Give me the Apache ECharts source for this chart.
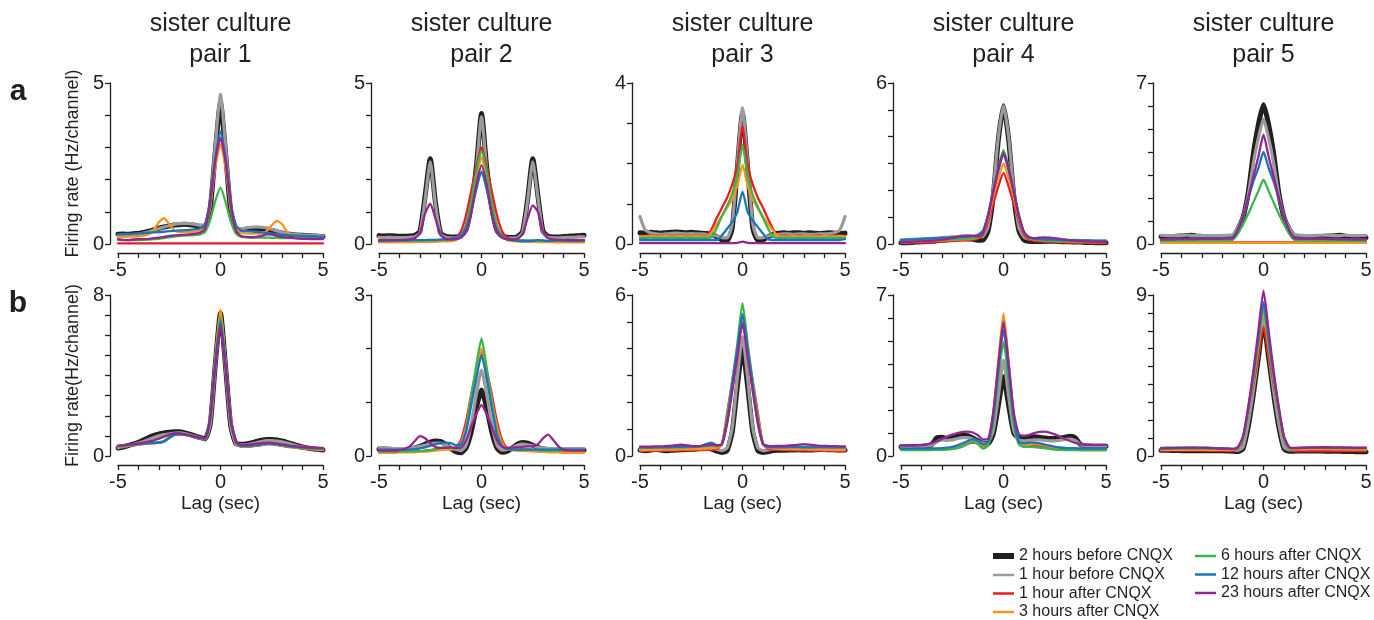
<!DOCTYPE html>
<html><head><meta charset="utf-8">
<script src="https://cdn.jsdelivr.net/npm/echarts@6/dist/echarts.min.js"></script>
<style>html,body{margin:0;padding:0;background:#fff}#c{width:1374px;height:620px}</style>
</head><body><div id="c"></div>
<script>
// ---------- DATA ----------
const lags = [-5,-4.75,-4.5,-4.25,-4,-3.75,-3.5,-3.25,-3,-2.75,-2.5,-2.25,-2,-1.75,-1.5,-1.25,-1,-0.75,-0.5,-0.25,0,0.25,0.5,0.75,1,1.25,1.5,1.75,2,2.25,2.5,2.75,3,3.25,3.5,3.75,4,4.25,4.5,4.75,5];
const xTickLabels = [-5, 0, 5];
const conditions = ['2 hours before CNQX','1 hour before CNQX','1 hour after CNQX','3 hours after CNQX','6 hours after CNQX','12 hours after CNQX','23 hours after CNQX'];
const titleLine1 = 'sister culture';
const pairLabels = ['pair 1','pair 2','pair 3','pair 4','pair 5'];
const yMaxRowA = [5, 5, 4, 6, 7];
const yMaxRowB = [8, 3, 6, 7, 9];
const yNameRowA = 'Firing rate (Hz/channel)';
const yNameRowB = 'Firing rate(Hz/channel)';
const xName = 'Lag (sec)';

// row a, pair 1
const a1_h2b = [0.30,0.31,0.30,0.32,0.33,0.36,0.40,0.44,0.49,0.53, 0.56,0.59,0.60,0.61,0.60,0.58,0.55,0.55,1.10,2.90, 4.40, 2.80,1.00,0.48,0.42,0.46,0.48,0.48,0.47,0.45,0.42, 0.38,0.34,0.31,0.29,0.28,0.27,0.26,0.25,0.24,0.23];
const a1_h1b = [0.27,0.28,0.28,0.29,0.31,0.34,0.38,0.43,0.48,0.53, 0.57,0.61,0.63,0.64,0.63,0.61,0.58,0.60,1.25,3.10, 4.65, 3.00,1.15,0.52,0.47,0.50,0.52,0.53,0.52,0.50,0.46, 0.41,0.36,0.32,0.30,0.29,0.28,0.27,0.27,0.26,0.25];
const a1_h1a = [0.02,0.02,0.02,0.02,0.02,0.02,0.02,0.02,0.02,0.02, 0.02,0.02,0.02,0.02,0.02,0.02,0.02,0.02,0.02,0.02, 0.02, 0.02,0.02,0.02,0.02,0.02,0.02,0.02,0.02,0.02,0.02, 0.02,0.02,0.02,0.02,0.02,0.02,0.02,0.02,0.02,0.02];
const a1_h3a = [0.22,0.22,0.23,0.23,0.24,0.26,0.30,0.45,0.68,0.80, 0.62,0.42,0.38,0.38,0.38,0.39,0.41,0.50,1.20,2.40, 3.10, 2.35,1.10,0.48,0.35,0.33,0.32,0.32,0.33,0.40,0.58, 0.72,0.62,0.38,0.28,0.26,0.25,0.24,0.23,0.22,0.21];
const a1_h6a = [0.13,0.12,0.12,0.12,0.12,0.13,0.14,0.15,0.16,0.18, 0.21,0.23,0.25,0.26,0.27,0.28,0.30,0.38,0.75,1.35, 1.75, 1.30,0.70,0.33,0.22,0.21,0.20,0.20,0.20,0.20,0.19, 0.19,0.18,0.18,0.19,0.19,0.20,0.20,0.20,0.20,0.20];
const a1_h12a = [0.30,0.31,0.31,0.32,0.33,0.34,0.35,0.36,0.37,0.38, 0.40,0.41,0.42,0.43,0.44,0.46,0.48,0.62,1.40,2.70, 3.50, 2.65,1.30,0.58,0.42,0.40,0.39,0.38,0.36,0.34,0.32, 0.31,0.29,0.28,0.27,0.26,0.25,0.24,0.24,0.23,0.22];
const a1_h23a = [0.15,0.13,0.12,0.14,0.15,0.15,0.16,0.18,0.20,0.22, 0.25,0.27,0.28,0.29,0.30,0.32,0.35,0.48,1.30,2.60, 3.30, 2.55,1.20,0.42,0.25,0.22,0.21,0.22,0.25,0.30,0.29, 0.25,0.22,0.20,0.18,0.17,0.16,0.16,0.15,0.15,0.15];

// row a, pair 2
const a2_h2b = [0.26,0.25,0.26,0.25,0.24,0.24,0.25,0.27,0.40,1.50, 2.65,1.30,0.35,0.24,0.22,0.22,0.26,0.45,1.20,2.40, 4.05, 2.40,1.15,0.42,0.25,0.21,0.20,0.23,0.38,1.40,2.65, 1.50,0.40,0.24,0.22,0.22,0.23,0.24,0.25,0.26,0.27];
const a2_h1b = [0.21,0.20,0.21,0.20,0.20,0.20,0.21,0.23,0.36,1.40, 2.55,1.25,0.32,0.21,0.19,0.19,0.23,0.42,1.15,2.35, 3.95, 2.35,1.10,0.40,0.22,0.18,0.18,0.20,0.35,1.35,2.55, 1.45,0.36,0.21,0.19,0.19,0.20,0.21,0.21,0.22,0.22];
const a2_h1a = [0.08,0.08,0.07,0.08,0.08,0.07,0.08,0.08,0.09,0.09, 0.10,0.10,0.11,0.12,0.14,0.20,0.40,0.90,1.65,2.40, 3.00, 2.40,1.65,0.90,0.40,0.20,0.14,0.12,0.11,0.10,0.10, 0.09,0.09,0.08,0.08,0.08,0.08,0.07,0.08,0.08,0.08];
const a2_h3a = [0.05,0.05,0.05,0.05,0.06,0.06,0.06,0.06,0.07,0.07, 0.07,0.07,0.08,0.08,0.09,0.12,0.25,0.60,1.30,2.10, 2.70, 2.10,1.30,0.60,0.25,0.12,0.09,0.08,0.07,0.07,0.07, 0.06,0.06,0.06,0.06,0.05,0.05,0.05,0.05,0.05,0.05];
const a2_h6a = [0.09,0.09,0.10,0.10,0.10,0.10,0.10,0.11,0.11,0.11, 0.11,0.12,0.12,0.13,0.14,0.16,0.28,0.60,1.35,2.25, 2.90, 2.25,1.30,0.55,0.25,0.15,0.13,0.12,0.12,0.11,0.11, 0.11,0.10,0.10,0.10,0.10,0.10,0.09,0.09,0.09,0.09];
const a2_h12a = [0.10,0.10,0.10,0.11,0.11,0.11,0.12,0.12,0.12,0.12, 0.13,0.13,0.14,0.15,0.17,0.20,0.28,0.50,1.00,1.70, 2.25, 1.70,0.95,0.45,0.22,0.14,0.12,0.10,0.09,0.09,0.10, 0.12,0.11,0.10,0.10,0.11,0.11,0.10,0.10,0.10,0.11];
const a2_h23a = [0.12,0.12,0.12,0.12,0.12,0.13,0.14,0.18,0.35,0.95, 1.25,0.80,0.30,0.16,0.14,0.15,0.20,0.40,1.00,1.85, 2.45, 1.85,0.95,0.38,0.20,0.15,0.14,0.16,0.30,0.80,1.20, 1.00,0.40,0.18,0.14,0.13,0.12,0.12,0.12,0.12,0.12];

// row a, pair 3
const a3_h2b = [0.28,0.27,0.29,0.28,0.27,0.28,0.29,0.30,0.29,0.28, 0.29,0.28,0.27,0.26,0.24,0.18,0.10,0.08,0.40,1.90, 3.25, 1.90,0.40,0.09,0.10,0.18,0.24,0.27,0.28,0.27,0.28, 0.28,0.27,0.28,0.27,0.26,0.27,0.28,0.27,0.26,0.27];
const a3_h1b = [0.68,0.35,0.28,0.25,0.24,0.25,0.26,0.27,0.26,0.25, 0.26,0.25,0.25,0.24,0.22,0.20,0.16,0.15,0.50,2.00, 3.38, 2.00,0.50,0.15,0.16,0.20,0.22,0.24,0.25,0.25,0.24, 0.25,0.25,0.24,0.24,0.25,0.25,0.26,0.28,0.35,0.68];
const a3_h1a = [0.20,0.20,0.21,0.20,0.20,0.21,0.20,0.20,0.21,0.20, 0.20,0.21,0.20,0.20,0.38,0.65,0.90,1.15,1.48,1.95, 2.95, 1.95,1.48,1.15,0.90,0.62,0.36,0.20,0.21,0.20,0.20, 0.21,0.20,0.20,0.20,0.21,0.20,0.20,0.20,0.21,0.20];
const a3_h3a = [0.19,0.19,0.20,0.19,0.19,0.20,0.19,0.19,0.20,0.19, 0.19,0.20,0.19,0.19,0.30,0.50,0.70,0.90,1.12,1.45, 1.97, 1.45,1.10,0.88,0.68,0.50,0.32,0.20,0.19,0.19,0.20, 0.19,0.19,0.20,0.19,0.19,0.20,0.19,0.19,0.20,0.19];
const a3_h6a = [0.15,0.15,0.16,0.15,0.15,0.15,0.16,0.15,0.15,0.16, 0.15,0.15,0.15,0.15,0.18,0.40,0.70,0.95,1.25,1.70, 2.46, 1.70,1.22,0.92,0.65,0.38,0.18,0.15,0.15,0.16,0.15, 0.15,0.15,0.16,0.15,0.15,0.15,0.16,0.15,0.15,0.15];
const a3_h12a = [0.10,0.10,0.10,0.10,0.10,0.10,0.10,0.10,0.10,0.10, 0.10,0.10,0.10,0.10,0.10,0.10,0.22,0.38,0.55,0.80, 1.30, 0.80,0.58,0.42,0.26,0.12,0.10,0.10,0.10,0.10,0.10, 0.10,0.10,0.10,0.10,0.10,0.10,0.10,0.10,0.10,0.12];
const a3_h23a = [0.02,0.02,0.02,0.02,0.02,0.02,0.02,0.02,0.02,0.02, 0.02,0.02,0.02,0.02,0.02,0.02,0.02,0.02,0.02,0.03, 0.06, 0.03,0.02,0.02,0.02,0.02,0.02,0.02,0.02,0.02,0.02, 0.02,0.02,0.02,0.02,0.02,0.02,0.02,0.02,0.02,0.02];

// row a, pair 4
const a4_h2b = [0.05,0.05,0.06,0.07,0.08,0.09,0.10,0.12,0.14,0.16, 0.18,0.20,0.21,0.20,0.18,0.14,0.15,0.50,1.80,3.90, 5.15, 3.90,1.80,0.50,0.15,0.10,0.09,0.09,0.10,0.10,0.10, 0.09,0.08,0.08,0.07,0.07,0.06,0.06,0.05,0.05,0.05];
const a4_h1b = [0.15,0.16,0.17,0.18,0.19,0.20,0.21,0.22,0.24,0.25, 0.27,0.28,0.30,0.30,0.29,0.26,0.28,0.65,2.00,4.00, 5.15, 4.00,1.95,0.62,0.25,0.18,0.17,0.17,0.18,0.18,0.17, 0.16,0.15,0.14,0.14,0.13,0.13,0.12,0.12,0.12,0.12];
const a4_h1a = [0.03,0.03,0.04,0.05,0.05,0.06,0.07,0.08,0.09,0.10, 0.11,0.12,0.13,0.14,0.15,0.20,0.35,0.85,1.50,2.15, 2.65, 2.15,1.50,0.85,0.35,0.18,0.12,0.10,0.09,0.08,0.07, 0.06,0.06,0.05,0.05,0.04,0.04,0.04,0.03,0.03,0.03];
const a4_h3a = [0.06,0.07,0.08,0.08,0.09,0.10,0.11,0.12,0.13,0.14, 0.15,0.16,0.17,0.18,0.19,0.24,0.40,0.95,1.75,2.45, 3.00, 2.45,1.75,0.95,0.40,0.22,0.16,0.14,0.13,0.12,0.11, 0.10,0.10,0.09,0.09,0.08,0.08,0.07,0.07,0.07,0.07];
const a4_h6a = [0.08,0.09,0.09,0.10,0.11,0.12,0.13,0.14,0.15,0.16, 0.17,0.18,0.19,0.20,0.21,0.26,0.45,1.10,2.00,2.85, 3.50, 2.85,2.00,1.10,0.45,0.24,0.17,0.15,0.14,0.13,0.12, 0.11,0.11,0.10,0.10,0.09,0.09,0.09,0.08,0.08,0.08];
const a4_h12a = [0.15,0.16,0.17,0.18,0.19,0.20,0.21,0.22,0.23,0.24, 0.25,0.26,0.27,0.28,0.30,0.34,0.50,1.10,1.95,2.75, 3.30, 2.75,1.95,1.05,0.45,0.26,0.20,0.18,0.17,0.16,0.16, 0.15,0.15,0.14,0.14,0.13,0.13,0.13,0.12,0.12,0.12];
const a4_h23a = [0.06,0.07,0.08,0.09,0.10,0.11,0.12,0.14,0.16,0.19, 0.22,0.26,0.29,0.31,0.30,0.28,0.40,1.05,1.95,2.80, 3.40, 2.80,1.95,1.05,0.42,0.24,0.22,0.24,0.25,0.24,0.22, 0.19,0.16,0.14,0.12,0.11,0.10,0.09,0.09,0.08,0.08];

// row a, pair 5
const a5_h2b = [0.32,0.33,0.31,0.34,0.35,0.36,0.38,0.34,0.33,0.32, 0.31,0.30,0.30,0.31,0.32,0.65,1.15,2.20,3.90,5.20, 6.05, 5.20,3.90,2.20,1.15,0.65,0.35,0.25,0.24,0.25,0.30, 0.32,0.34,0.35,0.36,0.38,0.34,0.30,0.20,0.25,0.28];
const a5_h1b = [0.38,0.37,0.36,0.36,0.37,0.38,0.37,0.36,0.36,0.37, 0.36,0.36,0.37,0.38,0.40,0.70,1.20,2.10,3.50,4.60, 5.43, 4.60,3.50,2.10,1.20,0.70,0.42,0.38,0.37,0.36,0.37, 0.38,0.38,0.37,0.36,0.37,0.38,0.37,0.36,0.37,0.38];
const a5_h1a = [0.07,0.07,0.07,0.07,0.07,0.07,0.07,0.07,0.07,0.07, 0.07,0.07,0.07,0.07,0.07,0.07,0.07,0.07,0.07,0.07, 0.07, 0.07,0.07,0.07,0.07,0.07,0.07,0.07,0.07,0.07,0.07, 0.07,0.07,0.07,0.07,0.07,0.07,0.07,0.07,0.07,0.07];
const a5_h3a = [0.05,0.05,0.05,0.05,0.05,0.05,0.05,0.05,0.05,0.05, 0.05,0.05,0.05,0.05,0.05,0.05,0.05,0.05,0.05,0.05, 0.05, 0.05,0.05,0.05,0.05,0.05,0.05,0.05,0.05,0.05,0.05, 0.05,0.05,0.05,0.05,0.05,0.05,0.05,0.05,0.05,0.05];
const a5_h6a = [0.14,0.14,0.15,0.15,0.15,0.15,0.15,0.16,0.16,0.16, 0.16,0.16,0.16,0.16,0.18,0.45,0.85,1.30,1.80,2.30, 2.80, 2.30,1.80,1.30,0.85,0.45,0.18,0.16,0.16,0.16,0.16, 0.15,0.15,0.15,0.15,0.15,0.15,0.15,0.14,0.14,0.14];
const a5_h12a = [0.20,0.21,0.21,0.22,0.22,0.22,0.23,0.23,0.23,0.24, 0.24,0.24,0.25,0.26,0.30,0.62,1.20,1.95,2.70,3.30, 4.00, 3.30,2.70,1.95,1.20,0.60,0.28,0.25,0.24,0.24,0.23, 0.23,0.22,0.22,0.22,0.21,0.21,0.21,0.20,0.20,0.20];
const a5_h23a = [0.20,0.20,0.20,0.21,0.21,0.21,0.21,0.22,0.22,0.22, 0.22,0.22,0.23,0.23,0.26,0.60,1.20,2.00,2.90,3.80, 4.75, 3.80,2.90,2.00,1.20,0.60,0.26,0.23,0.23,0.22,0.22, 0.22,0.22,0.21,0.21,0.21,0.21,0.20,0.20,0.20,0.20];

// row b, pair 1
const b1_h2b = [0.40,0.45,0.52,0.60,0.68,0.80,0.92,1.02,1.10,1.15, 1.18,1.20,1.20,1.15,1.08,1.00,0.92,0.85,1.60,4.60, 7.10, 4.40,1.50,0.62,0.58,0.60,0.65,0.72,0.78,0.82,0.82, 0.80,0.75,0.68,0.60,0.52,0.45,0.40,0.36,0.33,0.30];
const b1_h1b = [0.42,0.46,0.52,0.58,0.64,0.72,0.82,0.92,1.00,1.06, 1.10,1.14,1.15,1.12,1.05,0.98,0.90,0.84,1.60,4.50, 6.90, 4.30,1.50,0.60,0.55,0.56,0.60,0.66,0.72,0.76,0.76, 0.74,0.70,0.64,0.57,0.50,0.45,0.41,0.38,0.36,0.34];
const b1_h1a = [0.45,0.47,0.50,0.53,0.56,0.59,0.62,0.64,0.66,0.72, 0.90,1.05,1.08,1.05,1.00,0.93,0.86,0.85,1.90,4.80, 7.00, 4.60,1.80,0.70,0.45,0.45,0.47,0.50,0.54,0.58,0.58, 0.55,0.50,0.46,0.43,0.40,0.37,0.34,0.31,0.29,0.27];
const b1_h3a = [0.46,0.48,0.51,0.54,0.57,0.60,0.63,0.65,0.67,0.74, 0.92,1.06,1.09,1.06,1.01,0.94,0.87,0.86,1.95,4.95, 7.30, 4.70,1.85,0.72,0.48,0.47,0.49,0.52,0.56,0.60,0.60, 0.57,0.52,0.48,0.45,0.42,0.39,0.36,0.34,0.32,0.30];
const b1_h6a = [0.48,0.50,0.53,0.56,0.59,0.62,0.65,0.67,0.69,0.76, 0.94,1.08,1.10,1.07,1.02,0.95,0.88,0.87,1.90,4.75, 6.90, 4.55,1.80,0.70,0.48,0.48,0.50,0.53,0.57,0.60,0.60, 0.56,0.52,0.48,0.45,0.42,0.40,0.38,0.36,0.35,0.34];
const b1_h12a = [0.50,0.52,0.55,0.57,0.59,0.61,0.63,0.64,0.66,0.72, 0.90,1.05,1.08,1.06,1.01,0.95,0.88,0.88,1.95,4.65, 6.70, 4.50,1.85,0.72,0.50,0.50,0.52,0.55,0.59,0.62,0.62, 0.59,0.55,0.51,0.48,0.45,0.43,0.41,0.40,0.39,0.38];
const b1_h23a = [0.52,0.54,0.57,0.60,0.63,0.67,0.72,0.78,0.86,0.96, 1.06,1.12,1.12,1.08,1.02,0.96,0.90,0.88,1.85,4.50, 6.50, 4.35,1.75,0.72,0.55,0.56,0.58,0.61,0.64,0.66,0.65, 0.62,0.58,0.54,0.50,0.47,0.45,0.43,0.42,0.41,0.40];

// row b, pair 2
const b2_h2b = [0.13,0.13,0.12,0.12,0.12,0.12,0.13,0.15,0.18,0.22, 0.26,0.28,0.27,0.22,0.14,0.08,0.06,0.15,0.45,0.90, 1.23, 0.90,0.45,0.15,0.07,0.09,0.15,0.22,0.25,0.24,0.20, 0.16,0.13,0.12,0.12,0.11,0.11,0.11,0.11,0.11,0.11];
const b2_h1b = [0.15,0.15,0.15,0.14,0.14,0.14,0.15,0.16,0.18,0.20, 0.23,0.24,0.24,0.21,0.16,0.12,0.10,0.20,0.60,1.15, 1.60, 1.15,0.60,0.20,0.11,0.12,0.16,0.20,0.22,0.21,0.19, 0.16,0.15,0.14,0.14,0.14,0.14,0.14,0.14,0.14,0.14];
const b2_h1a = [0.08,0.08,0.08,0.08,0.08,0.08,0.08,0.09,0.09,0.10, 0.11,0.12,0.13,0.14,0.14,0.16,0.30,0.65,1.15,1.60, 1.97, 1.60,1.15,0.65,0.30,0.15,0.12,0.11,0.10,0.10,0.09, 0.09,0.09,0.08,0.08,0.08,0.08,0.08,0.08,0.08,0.08];
const b2_h3a = [0.06,0.06,0.06,0.06,0.07,0.07,0.07,0.07,0.08,0.08, 0.09,0.10,0.11,0.12,0.12,0.14,0.25,0.55,1.10,1.60, 2.00, 1.60,1.05,0.55,0.25,0.13,0.11,0.10,0.10,0.09,0.09, 0.08,0.08,0.07,0.07,0.07,0.06,0.06,0.06,0.06,0.06];
const b2_h6a = [0.08,0.08,0.08,0.08,0.08,0.08,0.09,0.09,0.09,0.10, 0.11,0.13,0.15,0.16,0.15,0.14,0.20,0.50,1.10,1.70, 2.19, 1.65,1.00,0.45,0.20,0.13,0.12,0.12,0.13,0.13,0.12, 0.11,0.10,0.10,0.10,0.10,0.10,0.10,0.10,0.10,0.10];
const b2_h12a = [0.12,0.12,0.12,0.12,0.12,0.12,0.12,0.13,0.14,0.16, 0.19,0.22,0.24,0.25,0.24,0.20,0.22,0.45,0.95,1.45, 1.88, 1.45,0.90,0.40,0.18,0.13,0.12,0.12,0.12,0.12,0.12, 0.12,0.12,0.12,0.12,0.12,0.12,0.12,0.12,0.12,0.12];
const b2_h23a = [0.10,0.10,0.10,0.10,0.11,0.13,0.18,0.28,0.37,0.33, 0.24,0.17,0.15,0.15,0.16,0.15,0.15,0.30,0.55,0.78, 0.95, 0.78,0.55,0.30,0.17,0.15,0.16,0.16,0.17,0.18,0.18, 0.22,0.33,0.40,0.30,0.18,0.12,0.11,0.10,0.10,0.10];

// row b, pair 3
const b3_h2b = [0.22,0.20,0.21,0.25,0.22,0.20,0.21,0.22,0.23,0.24, 0.25,0.26,0.28,0.30,0.26,0.18,0.13,0.20,0.90,2.60, 4.00, 2.60,0.90,0.20,0.13,0.16,0.20,0.21,0.21,0.22,0.22, 0.23,0.22,0.22,0.23,0.24,0.24,0.23,0.23,0.22,0.22];
const b3_h1b = [0.26,0.25,0.26,0.27,0.27,0.26,0.27,0.28,0.29,0.30, 0.30,0.31,0.32,0.33,0.30,0.24,0.20,0.30,1.05,2.90, 4.45, 2.90,1.05,0.30,0.20,0.23,0.26,0.27,0.27,0.28,0.28, 0.29,0.29,0.28,0.28,0.29,0.29,0.28,0.28,0.28,0.28];
const b3_h1a = [0.18,0.18,0.19,0.19,0.19,0.20,0.20,0.20,0.21,0.21, 0.21,0.22,0.22,0.23,0.24,0.26,0.45,1.60,2.80,3.95, 5.10, 3.95,2.80,1.60,0.45,0.26,0.24,0.23,0.22,0.22,0.21, 0.21,0.21,0.20,0.20,0.20,0.19,0.19,0.19,0.18,0.18];
const b3_h3a = [0.22,0.22,0.23,0.23,0.23,0.24,0.24,0.24,0.25,0.25, 0.25,0.26,0.26,0.27,0.28,0.30,0.45,1.45,2.70,3.95, 5.20, 3.95,2.70,1.45,0.45,0.30,0.28,0.27,0.26,0.26,0.25, 0.25,0.25,0.24,0.24,0.24,0.23,0.23,0.23,0.22,0.22];
const b3_h6a = [0.30,0.30,0.30,0.31,0.31,0.31,0.32,0.32,0.32,0.33, 0.33,0.34,0.35,0.38,0.40,0.36,0.45,1.40,2.80,4.20, 5.70, 4.20,2.75,1.35,0.45,0.35,0.34,0.34,0.34,0.34,0.35, 0.35,0.35,0.34,0.34,0.34,0.33,0.33,0.33,0.33,0.33];
const b3_h12a = [0.32,0.32,0.32,0.33,0.33,0.33,0.33,0.34,0.34,0.35, 0.35,0.36,0.38,0.45,0.50,0.40,0.45,1.30,2.65,4.00, 5.30, 4.00,2.60,1.25,0.45,0.33,0.32,0.32,0.32,0.33,0.33, 0.33,0.32,0.32,0.32,0.33,0.33,0.33,0.32,0.32,0.32];
const b3_h23a = [0.35,0.35,0.35,0.36,0.36,0.37,0.38,0.40,0.42,0.40, 0.38,0.37,0.38,0.40,0.42,0.40,0.45,1.20,2.40,3.70, 4.95, 3.70,2.40,1.20,0.45,0.38,0.37,0.38,0.38,0.39,0.40, 0.42,0.44,0.42,0.40,0.38,0.38,0.37,0.37,0.36,0.36];

// row b, pair 4
const b4_h2b = [0.40,0.40,0.41,0.41,0.42,0.43,0.50,0.80,0.82,0.76, 0.78,0.85,0.90,0.88,0.78,0.66,0.55,0.55,0.95,2.20, 3.45, 2.20,1.00,0.78,0.75,0.80,0.84,0.82,0.78,0.76,0.76, 0.78,0.82,0.86,0.80,0.50,0.44,0.43,0.42,0.42,0.42];
const b4_h1b = [0.42,0.42,0.42,0.43,0.43,0.44,0.48,0.62,0.70,0.68, 0.70,0.76,0.80,0.80,0.74,0.64,0.55,0.58,1.10,2.60, 4.17, 2.60,1.10,0.70,0.66,0.68,0.70,0.70,0.68,0.66,0.66, 0.68,0.72,0.74,0.68,0.50,0.45,0.44,0.44,0.44,0.44];
const b4_h1a = [0.28,0.28,0.28,0.28,0.28,0.28,0.28,0.29,0.30,0.31, 0.33,0.36,0.42,0.52,0.58,0.54,0.42,0.55,1.80,4.00, 6.00, 4.00,1.75,0.55,0.42,0.45,0.45,0.43,0.40,0.36,0.32, 0.30,0.28,0.27,0.27,0.26,0.26,0.26,0.26,0.26,0.26];
const b4_h3a = [0.30,0.30,0.30,0.30,0.30,0.30,0.31,0.31,0.32,0.33, 0.35,0.39,0.46,0.56,0.64,0.58,0.45,0.58,1.85,4.10, 6.20, 4.10,1.80,0.58,0.45,0.50,0.52,0.50,0.46,0.41,0.36, 0.33,0.31,0.30,0.30,0.30,0.29,0.29,0.29,0.29,0.29];
const b4_h6a = [0.26,0.26,0.26,0.26,0.26,0.26,0.26,0.27,0.27,0.28, 0.30,0.34,0.42,0.54,0.62,0.52,0.32,0.45,1.50,3.40, 4.97, 3.30,1.40,0.50,0.40,0.40,0.39,0.37,0.34,0.31,0.28, 0.27,0.26,0.26,0.26,0.26,0.26,0.26,0.26,0.26,0.26];
const b4_h12a = [0.32,0.32,0.32,0.32,0.32,0.32,0.33,0.33,0.34,0.36, 0.40,0.46,0.55,0.65,0.72,0.66,0.50,0.60,1.70,3.80, 5.48, 3.80,1.65,0.62,0.55,0.58,0.58,0.55,0.50,0.45,0.40, 0.37,0.35,0.34,0.34,0.33,0.33,0.33,0.33,0.33,0.33];
const b4_h23a = [0.45,0.45,0.45,0.46,0.47,0.50,0.56,0.64,0.74,0.84, 0.93,1.00,1.05,1.06,1.02,0.90,0.72,0.75,1.90,4.00, 5.84, 4.00,1.90,0.95,0.88,0.92,1.00,1.05,1.06,1.02,0.94, 0.84,0.74,0.65,0.57,0.52,0.49,0.48,0.48,0.48,0.48];

// row b, pair 5
const b5_h2b = [0.32,0.32,0.31,0.31,0.30,0.30,0.30,0.30,0.30,0.30, 0.30,0.29,0.29,0.28,0.27,0.25,0.40,1.60,3.40,5.50, 7.50, 5.50,3.40,1.60,0.40,0.26,0.27,0.28,0.28,0.28,0.28, 0.28,0.27,0.27,0.26,0.26,0.25,0.25,0.24,0.24,0.24];
const b5_h1b = [0.38,0.38,0.38,0.38,0.38,0.38,0.38,0.37,0.37,0.37, 0.37,0.36,0.36,0.35,0.34,0.32,0.50,1.80,3.60,5.70, 7.70, 5.70,3.60,1.80,0.50,0.34,0.35,0.36,0.36,0.36,0.36, 0.36,0.35,0.35,0.35,0.34,0.34,0.34,0.33,0.33,0.33];
const b5_h1a = [0.30,0.30,0.30,0.30,0.30,0.30,0.30,0.30,0.30,0.29, 0.29,0.29,0.29,0.28,0.28,0.40,1.00,2.40,4.00,5.60, 7.20, 5.60,4.00,2.40,1.00,0.40,0.28,0.28,0.28,0.28,0.28, 0.28,0.28,0.28,0.28,0.28,0.28,0.28,0.28,0.28,0.28];
const b5_h3a = [0.35,0.35,0.35,0.35,0.35,0.35,0.35,0.35,0.35,0.35, 0.35,0.35,0.35,0.34,0.34,0.42,0.95,2.40,4.20,6.10, 8.00, 6.10,4.20,2.40,0.95,0.42,0.36,0.37,0.37,0.38,0.38, 0.38,0.38,0.38,0.37,0.37,0.37,0.36,0.36,0.36,0.36];
const b5_h6a = [0.40,0.40,0.41,0.41,0.41,0.42,0.42,0.42,0.42,0.42, 0.41,0.41,0.40,0.40,0.38,0.45,1.00,2.50,4.30,6.30, 8.30, 6.30,4.30,2.50,1.00,0.45,0.42,0.43,0.44,0.45,0.45, 0.45,0.45,0.45,0.44,0.44,0.44,0.43,0.43,0.43,0.43];
const b5_h12a = [0.45,0.46,0.46,0.47,0.47,0.47,0.47,0.47,0.46,0.46, 0.45,0.44,0.43,0.42,0.40,0.48,1.05,2.60,4.50,6.60, 8.60, 6.60,4.50,2.60,1.05,0.48,0.44,0.45,0.46,0.47,0.47, 0.48,0.48,0.47,0.47,0.46,0.46,0.46,0.45,0.45,0.45];
const b5_h23a = [0.42,0.43,0.44,0.45,0.45,0.46,0.46,0.46,0.45,0.45, 0.44,0.43,0.42,0.41,0.40,0.50,1.10,2.70,4.70,7.00, 9.25, 7.00,4.70,2.70,1.10,0.50,0.45,0.46,0.47,0.48,0.48, 0.49,0.49,0.49,0.48,0.48,0.47,0.47,0.46,0.46,0.46];

const rowA = [
  [a1_h2b,a1_h1b,a1_h1a,a1_h3a,a1_h6a,a1_h12a,a1_h23a],
  [a2_h2b,a2_h1b,a2_h1a,a2_h3a,a2_h6a,a2_h12a,a2_h23a],
  [a3_h2b,a3_h1b,a3_h1a,a3_h3a,a3_h6a,a3_h12a,a3_h23a],
  [a4_h2b,a4_h1b,a4_h1a,a4_h3a,a4_h6a,a4_h12a,a4_h23a],
  [a5_h2b,a5_h1b,a5_h1a,a5_h3a,a5_h6a,a5_h12a,a5_h23a]
];
const rowB = [
  [b1_h2b,b1_h1b,b1_h1a,b1_h3a,b1_h6a,b1_h12a,b1_h23a],
  [b2_h2b,b2_h1b,b2_h1a,b2_h3a,b2_h6a,b2_h12a,b2_h23a],
  [b3_h2b,b3_h1b,b3_h1a,b3_h3a,b3_h6a,b3_h12a,b3_h23a],
  [b4_h2b,b4_h1b,b4_h1a,b4_h3a,b4_h6a,b4_h12a,b4_h23a],
  [b5_h2b,b5_h1b,b5_h1a,b5_h3a,b5_h6a,b5_h12a,b5_h23a]
];

// ---------- STYLE / LAYOUT ----------
const COLORS = ['#231f20','#9b9b9b','#ed1c24','#f7941d','#39b54a','#1c75bc','#92278f'];
const WIDTHS = [5, 3.2, 2.3, 2.3, 2.3, 2.3, 2.3];
const FONT = "'Liberation Sans', Arial, Helvetica, sans-serif";
const INK = '#231f20';
const PANEL_LEFT = [118, 379, 640, 901, 1161];
const ROW_TOP = [83, 295];
const PANEL_W = 205, PANEL_H = 161;

const grid = [], xAxis = [], yAxis = [], series = [];
[rowA, rowB].forEach((row, r) => {
  const yMaxes = r === 0 ? yMaxRowA : yMaxRowB;
  row.forEach((sets, c) => {
    const gi = r * 5 + c;
    const yMax = yMaxes[c];
    grid.push({left: PANEL_LEFT[c], top: ROW_TOP[r], width: PANEL_W, height: PANEL_H, containLabel: false, outerBoundsMode: 'none'});
    xAxis.push({
      gridIndex: gi, type: 'value', min: -5, max: 5, interval: 1, offset: 9,
      axisLine: {show: true, onZero: false, lineStyle: {color: INK, width: 1.3}},
      axisTick: {show: true, inside: false, length: 5, lineStyle: {color: INK, width: 1.3}},
      axisLabel: {show: true, margin: 7, fontSize: 20, color: INK, fontFamily: FONT, showMinLabel: true, showMaxLabel: true,
        formatter: v => xTickLabels.indexOf(v) >= 0 ? String(v) : ''},
      splitLine: {show: false},
      name: r === 1 ? xName : '', nameLocation: 'middle', nameGap: 29,
      nameTextStyle: {fontSize: 19, color: INK, fontFamily: FONT}
    });
    yAxis.push({
      gridIndex: gi, type: 'value', min: 0, max: yMax, interval: 1, offset: 8,
      axisLine: {show: true, onZero: false, lineStyle: {color: INK, width: 1.3}},
      axisTick: {show: true, inside: false, length: 5, lineStyle: {color: INK, width: 1.3}},
      axisLabel: {show: true, margin: 6, fontSize: 20, color: INK, fontFamily: FONT, showMinLabel: true, showMaxLabel: true,
        formatter: v => (v === 0 || v === yMax) ? String(v) : ''},
      splitLine: {show: false},
      name: c === 0 ? (r === 0 ? yNameRowA : yNameRowB) : '',
      nameLocation: 'middle', nameRotate: 90, nameGap: 28,
      nameTextStyle: {fontSize: 18, color: INK, fontFamily: FONT}
    });
    sets.forEach((vals, k) => {
      series.push({
        type: 'line', name: conditions[k], xAxisIndex: gi, yAxisIndex: gi,
        data: lags.map((x, i) => [x, vals[i]]),
        showSymbol: false, symbol: 'none', smooth: 0.2, clip: false,
        lineStyle: {color: COLORS[k], width: WIDTHS[k], join: 'round', cap: 'round'},
        itemStyle: {color: COLORS[k]},
        emphasis: {disabled: true}
      });
    });
  });
});

const legendText = {fontSize: 16, color: INK, fontFamily: FONT};
const graphic = [];
const txt = (x, y, text, font) => ({type: 'text', x, y, style: {text, font, fill: INK, align: 'center', verticalAlign: 'middle', textAlign: 'center', textVerticalAlign: 'middle'}});
PANEL_LEFT.forEach((l, c) => {
  graphic.push(txt(l + PANEL_W / 2, 24, titleLine1, `25px ${FONT}`));
  graphic.push(txt(l + PANEL_W / 2, 55, pairLabels[c], `25px ${FONT}`));
});
graphic.push(txt(18, 92, 'a', `bold 30px ${FONT}`));
graphic.push(txt(18, 304, 'b', `bold 30px ${FONT}`));

const option = {
  animation: false,
  backgroundColor: '#ffffff',
  textStyle: {fontFamily: FONT},
  grid, xAxis, yAxis, series, graphic,
  legend: [
    {data: [conditions[0]], orient: 'vertical', left: 993, top: 548, padding: 0, icon: 'rect', itemWidth: 21, itemHeight: 6, itemGap: 2.5, textStyle: legendText, itemStyle: {borderWidth: 0}},
    {data: conditions.slice(1, 4), orient: 'vertical', left: 993, top: 567, padding: 0, icon: 'rect', itemWidth: 21, itemHeight: 2.5, itemGap: 2.5, textStyle: legendText, itemStyle: {borderWidth: 0}},
    {data: conditions.slice(4), orient: 'vertical', left: 1195, top: 548, padding: 0, icon: 'rect', itemWidth: 21, itemHeight: 2.5, itemGap: 2.5, textStyle: legendText, itemStyle: {borderWidth: 0}}
  ]
};
const chart = echarts.init(document.getElementById('c'), null, {renderer: 'canvas'});
chart.setOption(option);
</script>
</body></html>
